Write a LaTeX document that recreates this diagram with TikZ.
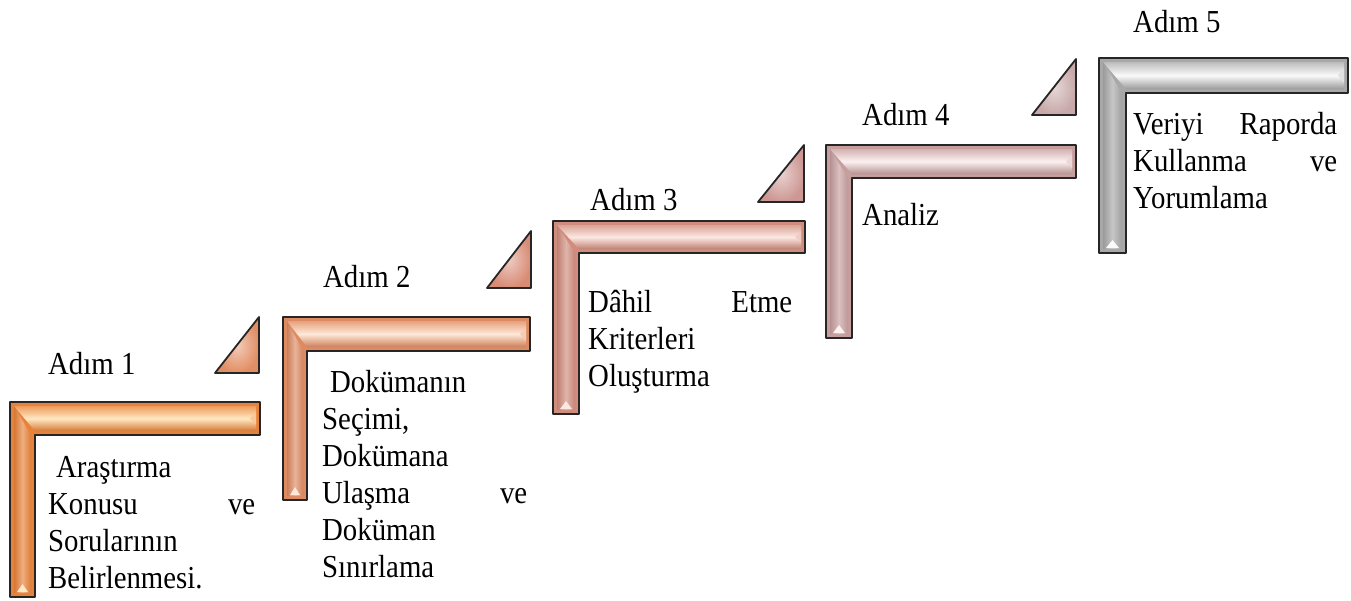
\documentclass[tikz,border=0pt]{standalone}
\usepackage{fontspec}
\setmainfont[FakeStretch=0.9]{Liberation Serif}
\usetikzlibrary{calc}
\definecolor{baseA}{RGB}{232,130,58}\definecolor{lightA}{RGB}{255,232,195}
\definecolor{baseB}{RGB}{222,138,98}\definecolor{lightB}{RGB}{255,232,215}
\definecolor{baseC}{RGB}{208,140,125}\definecolor{lightC}{RGB}{252,232,226}
\definecolor{baseD}{RGB}{198,158,158}\definecolor{lightD}{RGB}{252,240,240}
\definecolor{baseE}{RGB}{168,168,168}\definecolor{lightE}{RGB}{250,250,250}
\definecolor{triA}{RGB}{226,142,100}\definecolor{triB}{RGB}{216,140,118}
\definecolor{triC}{RGB}{205,152,148}\definecolor{triD}{RGB}{200,168,168}
\newcommand\bodyfont{\fontsize{32}{37}\selectfont}
% #1 x0, #2 y0, #3 x1, #4 y1, #5 xi, #6 yi, #7 base, #8 light
\newcommand\Lstep[8]{%
  \fill[#7] (#1,#2) -- (#3,#2) -- (#3,#6) -- (#5,#6) -- (#5,#4) -- (#1,#4) -- cycle;
  \shade[top color=#7!75!#8, bottom color=#7!92!black, middle color=#8]
    ({#1+4},{#2+4}) -- ({#3-4},{#2+4}) -- ({#3-4},{#6-4}) -- ({#5},{#6-4}) -- cycle;
  \shade[left color=#7!92!black, right color=#7!95!black, middle color=#7!65!white]
    ({#1+4},{#2+4}) -- ({#5-4},{#6}) -- ({#5-4},{#4-4}) -- ({#1+4},{#4-4}) -- cycle;
  \fill[#8] ({#1+7},{#4-5}) -- ({#5-7},{#4-5}) -- ({(#1+#5)/2},{#4-13}) -- cycle;
  \fill[#8!70!#7] ({#3-4},{#2+10}) -- ({#3-4},{#6-10}) -- ({#3-10},{(#2+#6)/2}) -- cycle;
  \draw[outline] (#1,#2) -- (#3,#2) -- (#3,#6) -- (#5,#6) -- (#5,#4) -- (#1,#4) -- cycle;
}
\newcommand\Tri[7]{%
  \shade[inner color=#7!45!white, outer color=#7] (#1,#2) -- (#3,#4) -- (#5,#6) -- cycle;
  \draw[outline] (#1,#2) -- (#3,#4) -- (#5,#6) -- cycle;
}
\begin{document}
\begin{tikzpicture}[x=1pt,y=-1pt,
  outline/.style={draw=black!85, line width=1.8pt, line join=round},
  label/.style={font=\bodyfont, anchor=base west, inner sep=0pt},
  body/.style={font=\bodyfont, anchor=base west, inner sep=0pt, align=left}]
\useasboundingbox (0,0) rectangle (1351,600);
% steps
\Lstep{10}{402}{260}{597}{35}{435}{baseA}{lightA}
\Lstep{283}{317}{530}{500}{307}{351}{baseB}{lightB}
\Lstep{553}{221}{805}{414}{579}{253}{baseC}{lightC}
\Lstep{826}{145}{1076}{338}{852}{178}{baseD}{lightD}
\Lstep{1099}{58}{1348}{253}{1126}{93}{baseE}{lightE}
% triangles
\Tri{215}{373}{259}{317}{259}{373}{triA}
\Tri{487}{288}{531}{231}{531}{288}{triB}
\Tri{758}{202}{804}{145}{804}{202}{triC}
\Tri{1032}{115}{1076}{59}{1076}{115}{triD}
% labels
\node[label] (l1) at (48,374) {Adım 1};
\node[label] (l2) at (323,287) {Adım 2};
\node[label] (l3) at (590,210) {Adım 3};
\node[label] (l4) at (862,125) {Adım 4};
\node[label] (l5) at (1133,32) {Adım 5};
% body texts
\node[body, text width=207pt] (b1) at (48,477)
  {\hspace*{8pt}Araştırma\\ Konusu\hfill ve\\ Sorularının\\ Belirlenmesi.};
\node[body, text width=205pt] (b2) at (322,392)
  {\hspace*{8pt}Dokümanın\\ Seçimi,\\ Dokümana\\ Ulaşma\hfill ve\\ Doküman\\ Sınırlama};
\node[body, text width=204pt] (b3) at (588,312)
  {Dâhil\hfill Etme\\ Kriterleri\\ Oluşturma};
\node[body, text width=204pt] (b4) at (862,225) {Analiz};
\node[body, text width=204pt] (b5) at (1133,134)
  {Veriyi\hfill Raporda\\ Kullanma\hfill ve\\ Yorumlama};
\end{tikzpicture}
\end{document}
